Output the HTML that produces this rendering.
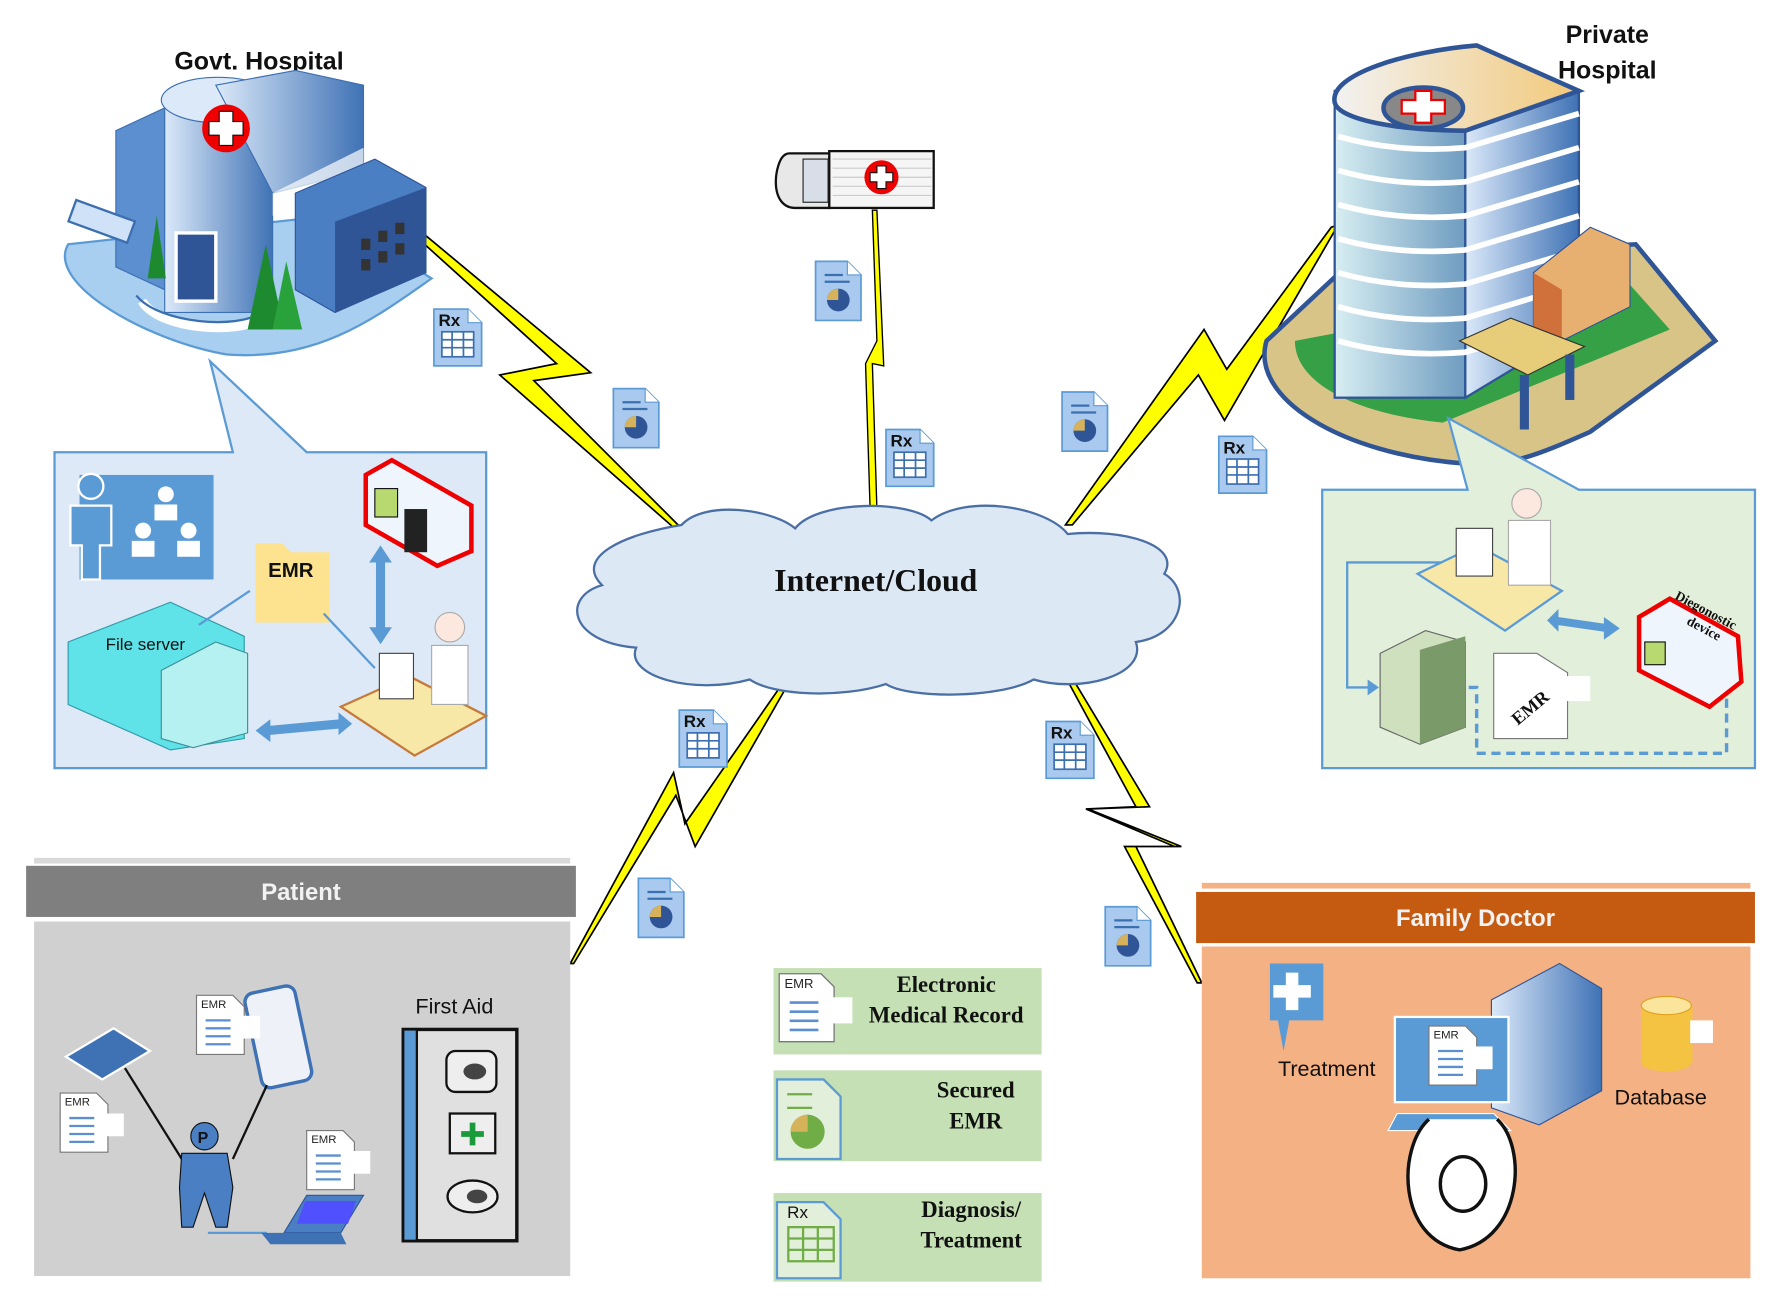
<!DOCTYPE html>
<html><head><meta charset="utf-8"><style>
html,body{margin:0;padding:0;background:#fff;}
svg{display:block;}
text{font-family:"Liberation Sans",sans-serif;}
.serif{font-family:"Liberation Serif",serif;font-weight:bold;}
</style></head><body>
<svg width="1772" height="1301" viewBox="0 0 1560 1145" preserveAspectRatio="none" xmlns="http://www.w3.org/2000/svg">
<defs>
<linearGradient id="bl" x1="0" x2="1"><stop offset="0" stop-color="#dbe9f9"/><stop offset="1" stop-color="#3f72b5"/></linearGradient>
<linearGradient id="tan" x1="0" x2="1"><stop offset="0" stop-color="#f2f2f2"/><stop offset="1" stop-color="#f2c97a"/></linearGradient>
<linearGradient id="cyl" x1="0" x2="1"><stop offset="0" stop-color="#d7eef2"/><stop offset="1" stop-color="#6f9cc0"/></linearGradient>
<g id="chart">
<path d="M0,0 H28 L40,12 V52 H0 Z" fill="#a9c9ef" stroke="#5b9bd5" stroke-width="1.5"/>
<path d="M28,0 V12 H40" fill="#fff" stroke="#5b9bd5"/>
<line x1="8" y1="12" x2="24" y2="12" stroke="#3c6fb0" stroke-width="2"/>
<line x1="8" y1="18" x2="30" y2="18" stroke="#3c6fb0" stroke-width="2"/>
<circle cx="20" cy="34" r="10" fill="#2f5597"/><path d="M20,34 V24 A10,10 0 0 0 10,34 Z" fill="#d6b35b"/>
</g>
<g id="rx">
<path d="M0,0 H30 L42,12 V50 H0 Z" fill="#a9c9ef" stroke="#5b9bd5" stroke-width="1.5"/>
<path d="M30,0 V12 H42" fill="#fff" stroke="#5b9bd5"/>
<text x="4" y="15" font-size="15" font-weight="bold" fill="#111">Rx</text>
<rect x="7" y="20" width="28" height="22" fill="#fff" stroke="#3c6fb0" stroke-width="1.5"/>
<path d="M7,27 H35 M7,34 H35 M16,20 V42 M26,20 V42" stroke="#3c6fb0" stroke-width="1.5"/>
</g>
<g id="emrdoc">
<path d="M0,0 H32 L42,10 V52 H0 Z" fill="#fff" stroke="#777"/>
<text x="4" y="11" font-size="10" font-family="Liberation Serif" fill="#222">EMR</text>
<path d="M8,22 H30 M8,29 H30 M8,36 H30 M8,43 H30" stroke="#5b8fd0" stroke-width="2"/>
<rect x="40" y="18" width="16" height="20" fill="#fff"/>
</g>
</defs>

<!-- lightning bolts -->
<polygon points="360,195 520,328 470,335 600,465 595,466 440,330 490,320 355,198" fill="#ffff00" stroke="#000" stroke-width="1.5"/>
<polygon points="770,185 772,185 778,322 768,320 772,448 766,448 762,320 772,300 768,185" fill="#ffff00" stroke="#000" stroke-width="1.2"/>
<polygon points="1178,198 1078,370 1055,330 944,462 938,462 1060,290 1080,325 1172,200" fill="#ffff00" stroke="#000" stroke-width="1.5"/>
<polygon points="695,600 612,745 595,700 505,848 502,848 593,680 603,725 690,600" fill="#ffff00" stroke="#000" stroke-width="1.5"/>
<polygon points="940,590 1012,710 958,712 1040,745 1000,745 1058,865 1054,865 990,745 1034,745 956,712 1000,710 936,592" fill="#ffff00" stroke="#000" stroke-width="1.5"/>

<!-- cloud -->
<path d="M600,462 C620,440 680,448 700,465 C720,440 800,440 820,458 C850,435 920,445 940,470 C990,465 1040,480 1025,505 C1050,520 1040,560 1000,565 C1010,595 950,610 910,598 C880,615 800,615 780,602 C740,615 680,612 660,598 C610,612 550,595 560,570 C500,565 495,525 530,515 C505,490 550,470 600,462 Z" fill="#dde8f5" stroke="#4a6fa5" stroke-width="2"/>
<text x="771" y="520" class="serif" font-size="28" text-anchor="middle" fill="#111">Internet/Cloud</text>

<!-- Govt hospital -->
<text x="228" y="61" font-size="22" font-weight="bold" text-anchor="middle" fill="#111">Govt. Hospital</text>
<path d="M60,215 C40,250 130,300 200,312 C280,318 330,280 380,245 L290,190 Z" fill="#a9cff0" stroke="#5b9bd5" stroke-width="2"/>
<polygon points="102,115 145,95 145,255 102,235" fill="#5b8fd0" stroke="#3c6fb0"/>
<rect x="145" y="85" width="95" height="190" fill="url(#bl)" stroke="#3c6fb0"/>
<ellipse cx="192" cy="88" rx="50" ry="20" fill="#dbe9f9" stroke="#3c6fb0"/>
<polygon points="190,75 260,62 320,75 320,150 240,170" fill="url(#bl)" stroke="#3c6fb0"/>
<polygon points="240,170 320,130 320,150 240,190" fill="#fff" opacity=".7"/>
<polygon points="260,170 330,140 375,165 375,240 295,275 260,255" fill="#4a7fc4" stroke="#2f5597"/>
<polygon points="295,195 375,165 375,240 295,275" fill="#2f5597"/>
<g fill="#333"><rect x="318" y="210" width="8" height="10"/><rect x="333" y="203" width="8" height="10"/><rect x="348" y="196" width="8" height="10"/><rect x="318" y="228" width="8" height="10"/><rect x="333" y="221" width="8" height="10"/><rect x="348" y="214" width="8" height="10"/></g>
<rect x="155" y="205" width="35" height="60" fill="#2f5597" stroke="#fff" stroke-width="3"/>
<path d="M125,265 C140,290 210,295 230,280" fill="none" stroke="#fff" stroke-width="8"/>
<path d="M120,260 C140,285 210,290 230,275" fill="none" stroke="#3c6fb0" stroke-width="2"/>
<polygon points="218,290 234,215 250,290" fill="#1e8a30"/><polygon points="240,290 252,230 266,290" fill="#2aa23c"/><polygon points="130,245 138,190 146,245" fill="#1e8a30"/>
<rect x="62" y="185" width="55" height="20" fill="#cfe2f7" stroke="#3c6fb0" stroke-width="2" transform="rotate(20 90 195)"/>
<circle cx="199" cy="113" r="21" fill="#e00"/><path d="M193,98 h12 v9 h9 v12 h-9 v9 h-12 v-9 h-9 v-12 h9 Z" fill="#fff" stroke="#111"/>

<!-- Govt callout -->
<path d="M48,398 H205 L185,318 L270,398 H428 V676 H48 Z" fill="#dde9f6" stroke="#5b9bd5" stroke-width="2"/>
<rect x="70" y="418" width="118" height="92" fill="#5b9bd5"/>
<circle cx="80" cy="428" r="11" fill="#5b9bd5" stroke="#fff" stroke-width="2"/>
<path d="M62,445 H98 V480 H88 V510 H72 V480 H62 Z" fill="#5b9bd5" stroke="#fff" stroke-width="2"/>
<g fill="#fff"><circle cx="146" cy="435" r="7"/><rect x="136" y="444" width="20" height="14"/><circle cx="126" cy="467" r="7"/><rect x="116" y="476" width="20" height="14"/><circle cx="166" cy="467" r="7"/><rect x="156" y="476" width="20" height="14"/></g>
<path d="M225,488 V478 H248 L256,486 H290 V548 H225 Z" fill="#fde28f"/>
<text x="236" y="508" font-size="18" font-weight="bold" fill="#111">EMR</text>
<polygon points="60,565 150,530 215,560 215,650 150,660 60,620" fill="#5fe3e8" stroke="#2f9aa8"/>
<text x="93" y="572" font-size="15" fill="#111">File server</text>
<polygon points="142,590 190,565 218,575 218,645 170,658 142,650" fill="#b6f1f1" stroke="#3c8f98"/>
<path d="M175,550 L220,520 M285,540 L330,588" stroke="#5b9bd5" stroke-width="2"/>
<path d="M335,490 V558" stroke="#5b9bd5" stroke-width="8"/><path d="M325,495 L335,480 L345,495 Z M325,552 L335,567 L345,552 Z" fill="#5b9bd5"/>
<path d="M235,643 L300,637" stroke="#5b9bd5" stroke-width="8"/><path d="M238,633 L225,643 L238,653 Z M298,627 L310,637 L298,647 Z" fill="#5b9bd5"/>
<path d="M322,418 L345,405 L415,445 L415,485 L385,498 L322,462 Z" fill="#eef5fc" stroke="#e00" stroke-width="4"/>
<rect x="330" y="430" width="20" height="25" fill="#b8d870" stroke="#111"/><rect x="356" y="448" width="20" height="38" fill="#222"/>
<polygon points="300,622 360,595 428,630 365,665" fill="#f8e8a8" stroke="#c47a3a" stroke-width="2"/>
<rect x="334" y="575" width="30" height="40" fill="#fff" stroke="#444"/>
<circle cx="396" cy="552" r="13" fill="#fde8e0" stroke="#aaa"/>
<path d="M380,568 H412 V620 H380 Z" fill="#fff" stroke="#aaa"/>

<!-- Ambulance -->
<rect x="730" y="133" width="92" height="50" fill="#f5f5f5" stroke="#111" stroke-width="2"/>
<path d="M733,140 H820 M733,148 H820 M733,156 H820 M733,164 H820 M733,172 H820" stroke="#ccc"/>
<path d="M730,135 H695 C685,135 683,155 683,160 C683,175 690,183 700,183 H730 Z" fill="#e8e8e8" stroke="#111" stroke-width="2"/>
<rect x="707" y="140" width="22" height="38" fill="#d8dee8" stroke="#222"/>
<circle cx="776" cy="156" r="15" fill="#e00"/><path d="M772,146 h8 v6 h6 v8 h-6 v6 h-8 v-6 h-6 v-8 h6 Z" fill="#fff" stroke="#111"/>

<!-- doc icons -->
<use href="#chart" x="540" y="342"/><use href="#chart" x="718" y="230"/><use href="#chart" x="935" y="345"/><use href="#chart" x="562" y="773"/><use href="#chart" x="973" y="798"/>
<use href="#rx" x="382" y="272"/><use href="#rx" x="780" y="378"/><use href="#rx" x="1073" y="384"/><use href="#rx" x="598" y="625"/><use href="#rx" x="921" y="635"/>

<!-- Private hospital -->
<text x="1415" y="38" font-size="22" font-weight="bold" text-anchor="middle" fill="#111">Private</text>
<text x="1415" y="69" font-size="22" font-weight="bold" text-anchor="middle" fill="#111">Hospital</text>
<path d="M1115,300 C1100,350 1180,400 1290,408 C1330,410 1350,402 1400,380 L1510,300 L1440,215 L1190,230 Z" fill="#d9c487" stroke="#2f5597" stroke-width="4"/>
<path d="M1140,300 C1140,340 1200,365 1270,372 L1470,290 L1430,245 Z" fill="#35a045"/>
<rect x="1175" y="80" width="115" height="270" fill="url(#cyl)" stroke="#2f5597" stroke-width="2"/>
<polygon points="1290,110 1390,80 1390,290 1290,350" fill="url(#bl)" stroke="#2f5597" stroke-width="2"/>
<g stroke="#fff" stroke-width="5" fill="none"><path d="M1178,120 Q1230,135 1290,130 L1390,100"/><path d="M1178,150 Q1230,165 1290,160 L1390,130"/><path d="M1178,180 Q1230,195 1290,190 L1390,160"/><path d="M1178,210 Q1230,225 1290,220 L1390,190"/><path d="M1178,240 Q1230,255 1290,250 L1390,220"/><path d="M1178,270 Q1230,285 1290,280 L1390,250"/><path d="M1178,300 Q1230,315 1290,310 L1390,280"/></g>
<path d="M1175,90 C1170,65 1240,45 1300,40 L1390,80 L1290,115 C1230,115 1178,105 1175,90 Z" fill="url(#tan)" stroke="#2f5597" stroke-width="4"/>
<ellipse cx="1253" cy="95" rx="35" ry="18" fill="#888" stroke="#2f5597" stroke-width="4"/>
<path d="M1246,80 h14 v8 h12 v12 h-12 v8 h-14 v-8 h-12 v-12 h12 Z" fill="#fff" stroke="#e00" stroke-width="2"/>
<polygon points="1350,240 1400,200 1435,215 1435,270 1375,300 1350,290" fill="#e8b070" stroke="#2f5597"/>
<polygon points="1350,240 1375,255 1375,300 1350,290" fill="#d0703a"/>
<polygon points="1285,300 1330,280 1395,305 1345,330" fill="#e7cc7a" stroke="#333"/>
<rect x="1338" y="330" width="8" height="48" fill="#2f5597"/><rect x="1378" y="312" width="8" height="40" fill="#2f5597"/>

<!-- Private callout -->
<path d="M1164,431 H1292 L1275,368 L1390,431 H1545 V676 H1164 Z" fill="#e2efda" stroke="#5b9bd5" stroke-width="2"/>
<path d="M1290,495 H1186 V605 H1210" fill="none" stroke="#5b9bd5" stroke-width="2"/><path d="M1204,598 L1214,605 L1204,612 Z" fill="#5b9bd5"/>
<path d="M1520,615 V663 H1300 V605 H1268" fill="none" stroke="#5b9bd5" stroke-width="3" stroke-dasharray="8,5"/>
<polygon points="1248,505 1300,480 1375,520 1325,555" fill="#f8e8a8" stroke="#5b9bd5" stroke-width="2"/>
<rect x="1282" y="465" width="32" height="42" fill="#fff" stroke="#444"/>
<circle cx="1344" cy="443" r="13" fill="#fde8e0" stroke="#aaa"/>
<path d="M1328,458 H1365 V515 H1328 Z" fill="#fff" stroke="#aaa"/>
<polygon points="1215,575 1255,555 1290,565 1290,640 1250,655 1215,640" fill="#cfe0bf" stroke="#666"/>
<polygon points="1250,572 1290,560 1290,640 1250,655" fill="#7a9a6a"/>
<path d="M1368,546 L1416,553" stroke="#5b9bd5" stroke-width="7"/><path d="M1372,536 L1362,546 L1372,556 Z M1412,543 L1426,553 L1412,563 Z" fill="#5b9bd5"/>
<path d="M1315,575 H1353 L1380,592 V650 H1315 Z" fill="#fff" stroke="#777"/><rect x="1378" y="595" width="22" height="22" fill="#fff"/>
<text x="1325" y="632" class="serif" font-size="16" transform="rotate(-40 1340 620)" fill="#111">EMR</text>
<path d="M1443,543 L1470,527 L1530,560 L1533,600 L1505,622 L1443,590 Z" fill="#eef5fc" stroke="#e00" stroke-width="4"/>
<text x="1463" y="540" class="serif" font-size="12" transform="rotate(28 1495 555)" fill="#111">Diegonostic</text>
<text x="1478" y="556" class="serif" font-size="12" transform="rotate(28 1495 565)" fill="#111">device</text>
<rect x="1448" y="565" width="18" height="20" fill="#b8d870" stroke="#111"/>

<!-- Patient -->
<rect x="30" y="755" width="472" height="5" fill="#d9d9d9"/>
<rect x="23" y="762" width="484" height="45" fill="#7f7f7f"/>
<text x="265" y="792" font-size="21" font-weight="bold" fill="#f2f2f2" text-anchor="middle">Patient</text>
<rect x="30" y="811" width="472" height="312" fill="#d0d0d0"/>
<text x="400" y="892" font-size="19" fill="#111" text-anchor="middle">First Aid</text>
<rect x="355" y="906" width="100" height="186" fill="#e0e0e0" stroke="#111" stroke-width="3"/>
<rect x="355" y="906" width="12" height="186" fill="#5b9bd5" stroke="#111" stroke-width="2"/>
<rect x="393" y="925" width="44" height="36" rx="8" fill="#eee" stroke="#111" stroke-width="2"/><ellipse cx="418" cy="943" rx="10" ry="7" fill="#444"/>
<rect x="396" y="980" width="40" height="35" fill="#eee" stroke="#111" stroke-width="2"/><path d="M416,988 V1008 M406,998 H426" stroke="#1a9a3a" stroke-width="5"/>
<ellipse cx="416" cy="1053" rx="22" ry="14" fill="#eee" stroke="#111" stroke-width="2"/><ellipse cx="420" cy="1053" rx="9" ry="6" fill="#444"/>
<polygon points="58,930 100,905 132,925 90,950" fill="#3f72b5" stroke="#fff" stroke-width="2"/>
<rect x="222" y="870" width="45" height="85" rx="8" fill="#eef2f8" stroke="#3f72b5" stroke-width="3" transform="rotate(-12 245 910)"/>
<use href="#emrdoc" x="173" y="876"/><use href="#emrdoc" x="53" y="962"/><use href="#emrdoc" x="270" y="995"/>
<path d="M110,940 L160,1020 M235,955 L205,1020" stroke="#111" stroke-width="2"/>
<circle cx="180" cy="1000" r="12" fill="#4a7fc4" stroke="#111"/><text x="174" y="1006" font-size="14" font-weight="bold" fill="#111">P</text>
<path d="M160,1015 H200 L205,1045 L200,1080 H190 L180,1050 L170,1080 H160 L158,1045 Z" fill="#4a7fc4" stroke="#111"/>
<path d="M183,1085 H235" stroke="#5b9bd5" stroke-width="2"/>
<polygon points="270,1052 320,1052 300,1085 250,1085" fill="#4a7fc4" stroke="#2f5597"/><rect x="265" y="1057" width="45" height="20" fill="#5050ff" transform="skewX(-20)" transform-origin="285 1067"/>
<polygon points="230,1085 300,1085 305,1095 238,1095" fill="#3f72b5"/>

<!-- Legend -->
<rect x="681" y="852" width="236" height="76" fill="#c5e0b4"/>
<g transform="translate(686,857) scale(1.15)"><use href="#emrdoc"/></g>
<text x="833" y="873" class="serif" font-size="20" text-anchor="middle" fill="#111">Electronic</text>
<text x="833" y="900" class="serif" font-size="20" text-anchor="middle" fill="#111">Medical Record</text>
<rect x="681" y="942" width="236" height="80" fill="#c5e0b4"/>
<path d="M684,950 H725 L740,965 V1020 H684 Z" fill="#e2efda" stroke="#5b9bd5" stroke-width="2"/>
<path d="M693,963 H715 M693,975 H715" stroke="#70ad47" stroke-width="2"/><circle cx="711" cy="996" r="15" fill="#70ad47"/><path d="M711,996 V981 A15,15 0 0 0 696,996 Z" fill="#d6b35b"/>
<text x="859" y="966" class="serif" font-size="20" text-anchor="middle" fill="#111">Secured</text>
<text x="859" y="993" class="serif" font-size="20" text-anchor="middle" fill="#111">EMR</text>
<rect x="681" y="1050" width="236" height="78" fill="#c5e0b4"/>
<path d="M684,1058 H725 L740,1073 V1125 H684 Z" fill="#e2efda" stroke="#5b9bd5" stroke-width="2"/>
<text x="693" y="1072" font-size="15" fill="#111">Rx</text>
<rect x="694" y="1080" width="40" height="30" fill="none" stroke="#70ad47" stroke-width="2"/><path d="M694,1090 H734 M694,1100 H734 M707,1080 V1110 M720,1080 V1110" stroke="#70ad47" stroke-width="2"/>
<text x="855" y="1071" class="serif" font-size="20" text-anchor="middle" fill="#111">Diagnosis/</text>
<text x="855" y="1098" class="serif" font-size="20" text-anchor="middle" fill="#111">Treatment</text>

<!-- Family Doctor -->
<rect x="1058" y="777" width="483" height="5" fill="#f4b183"/>
<rect x="1053" y="785" width="492" height="45" fill="#c55a11"/>
<text x="1299" y="815" font-size="21" font-weight="bold" fill="#f2f2f2" text-anchor="middle">Family Doctor</text>
<rect x="1058" y="833" width="483" height="292" fill="#f4b183"/>
<path d="M1118,848 H1165 V898 H1135 L1130,925 L1125,898 H1118 Z" fill="#5b9bd5"/>
<path d="M1136,858 h11 v11 h11 v11 h-11 v11 h-11 v-11 h-11 v-11 h11 Z" fill="#fff" transform="translate(-4,-2) scale(1)"/>
<text x="1168" y="947" font-size="19" fill="#111" text-anchor="middle">Treatment</text>
<polygon points="1313,880 1373,848 1410,870 1410,960 1355,990 1313,975" fill="url(#bl)" stroke="#2f5597"/>
<rect x="1228" y="895" width="100" height="75" fill="#5b9bd5" stroke="#fff" stroke-width="2"/>
<use href="#emrdoc" x="1258" y="903"/>
<polygon points="1230,980 1315,980 1330,995 1222,995" fill="#5b9bd5" stroke="#fff"/>
<path d="M1258,985 C1230,1010 1230,1090 1285,1100 C1340,1090 1345,1010 1318,985" fill="#fff" stroke="#111" stroke-width="3"/>
<ellipse cx="1288" cy="1042" rx="20" ry="24" fill="#fff" stroke="#111" stroke-width="3"/>
<rect x="1445" y="885" width="45" height="50" fill="#f5c342"/><ellipse cx="1467" cy="885" rx="22" ry="8" fill="#fbe49b" stroke="#e0a020"/><ellipse cx="1467" cy="935" rx="22" ry="8" fill="#f5c342"/>
<rect x="1488" y="898" width="20" height="20" fill="#fff"/>
<text x="1462" y="972" font-size="19" fill="#111" text-anchor="middle">Database</text>
</svg>
</body></html>
